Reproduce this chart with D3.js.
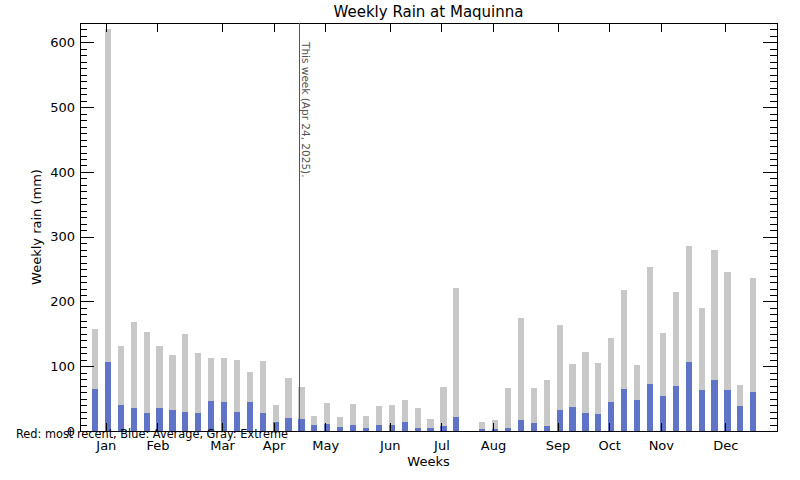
<!DOCTYPE html>
<html>
<head>
<meta charset="utf-8">
<script src="https://cdn.jsdelivr.net/npm/d3@7"></script>
<style>
  body { margin: 0; background: #fff; }
  svg { display: block; font-family: "DejaVu Sans", sans-serif; }
  .axis path, .axis line { stroke: #000; shape-rendering: crispEdges; }
  .axis text { fill: #000; font-size: 13px; font-family: "DejaVu Sans", sans-serif; }
</style>
</head>
<body>
<svg width="800" height="480"></svg>
<script>
// weekly values (mm), week 1..52
const extreme = [158, 620, 132, 169, 153, 132, 118, 150, 121, 113, 113, 110, 91, 108,
  40, 82, 68, 23, 43, 22, 42, 23, 39, 40, 48, 36, 19, 68, 221, null,
  14, 17, 67, 175, 67, 79, 163, 104, 122, 105, 144, 218, 102, 254,
  152, 215, 286, 190, 280, 246, 71, 237];
const average = [65, 107, 40, 36, 28, 36, 33, 29, 28, 46, 45, 29, 45, 28,
  14, 20, 19, 9, 11, 6, 9, 5, 9, 9, 14, 5, 5, 8, 22, null,
  3, 3, 5, 17, 12, 8, 33, 37, 28, 26, 45, 65, 48, 73,
  54, 70, 107, 64, 79, 64, 39, 60];
const months = ['Jan', 'Feb', 'Mar', 'Apr', 'May', 'Jun', 'Jul', 'Aug', 'Sep', 'Oct', 'Nov', 'Dec'];
const monthWeeks = [2, 6, 11, 15, 19, 24, 28, 32, 37, 41, 45, 50];
const thisWeek = 17;

const svg = d3.select('svg');
const plotL = 80, plotR = 777, plotT = 23, plotB = 431;

const x = d3.scaleLinear().domain([0, 54]).range([plotL, plotR]);
const y = d3.scaleLinear().domain([0, 630]).range([plotB, plotT]);

const weeks = extreme.map((v, i) => ({ week: i + 1, ext: v, avg: average[i] }))
  .filter(d => d.ext !== null);

const barW = x(0.48) - x(0);

svg.append('g').selectAll('rect')
  .data(weeks)
  .join('rect')
  .attr('x', d => x(d.week - 0.08))
  .attr('y', d => y(d.ext))
  .attr('width', barW)
  .attr('height', d => y(0) - y(d.ext))
  .attr('fill', '#c8c8c8')
  .attr('shape-rendering', 'crispEdges');

svg.append('g').selectAll('rect')
  .data(weeks)
  .join('rect')
  .attr('x', d => x(d.week - 0.08))
  .attr('y', d => y(d.avg))
  .attr('width', barW)
  .attr('height', d => y(0) - y(d.avg))
  .attr('fill', '#5f74c7')
  .attr('shape-rendering', 'crispEdges');

// axes
svg.append('g').attr('class', 'axis')
  .attr('transform', `translate(${plotL},0)`)
  .call(d3.axisLeft(y).tickValues(d3.range(0, 631, 10)).tickSize(-7).tickSizeOuter(0).tickFormat(''));
svg.append('g').attr('class', 'axis')
  .attr('transform', `translate(${plotL},0)`)
  .call(d3.axisLeft(y).tickValues(d3.range(0, 601, 100)).tickSize(-14).tickSizeOuter(0).tickPadding(5));

svg.append('g').attr('class', 'axis')
  .attr('transform', `translate(${plotR},0)`)
  .call(d3.axisRight(y).tickValues(d3.range(0, 631, 10)).tickSize(-7).tickSizeOuter(0).tickFormat(''));
svg.append('g').attr('class', 'axis')
  .attr('transform', `translate(${plotR},0)`)
  .call(d3.axisRight(y).tickValues(d3.range(0, 601, 100)).tickSize(-14).tickSizeOuter(0).tickFormat(''));

svg.append('g').attr('class', 'axis')
  .attr('transform', `translate(0,${plotB})`)
  .call(d3.axisBottom(x).tickValues(monthWeeks).tickSize(-8).tickSizeOuter(0)
    .tickPadding(10).tickFormat((d, i) => months[i]));

svg.append('g').attr('class', 'axis')
  .attr('transform', `translate(0,${plotT})`)
  .call(d3.axisTop(x).tickValues(monthWeeks).tickSize(-9).tickSizeOuter(0).tickFormat(''));

// this week marker
svg.append('line')
  .attr('x1', x(thisWeek)).attr('x2', x(thisWeek))
  .attr('y1', plotT).attr('y2', plotB)
  .attr('stroke', '#555').attr('stroke-width', 1)
  .attr('shape-rendering', 'crispEdges');

svg.append('text')
  .attr('transform', `translate(${x(thisWeek) + 2.5},42) rotate(90)`)
  .attr('font-size', 10.5)
  .attr('fill', '#555')
  .text('This week (Apr 24, 2025).');

// titles
svg.append('text')
  .attr('x', (plotL + plotR) / 2).attr('y', 17)
  .attr('text-anchor', 'middle')
  .attr('font-size', 15)
  .text('Weekly Rain at Maquinna');

svg.append('text')
  .attr('x', (plotL + plotR) / 2).attr('y', 466)
  .attr('text-anchor', 'middle')
  .attr('font-size', 13)
  .text('Weeks');

svg.append('text')
  .attr('transform', `translate(41,${(plotT + plotB) / 2}) rotate(-90)`)
  .attr('text-anchor', 'middle')
  .attr('font-size', 13)
  .text('Weekly rain (mm)');

svg.append('text')
  .attr('x', 16).attr('y', 438)
  .attr('font-size', 12)
  .attr('textLength', 272)
  .attr('lengthAdjust', 'spacingAndGlyphs')
  .text('Red: most recent, Blue: Average, Gray: Extreme');
</script>
</body>
</html>
